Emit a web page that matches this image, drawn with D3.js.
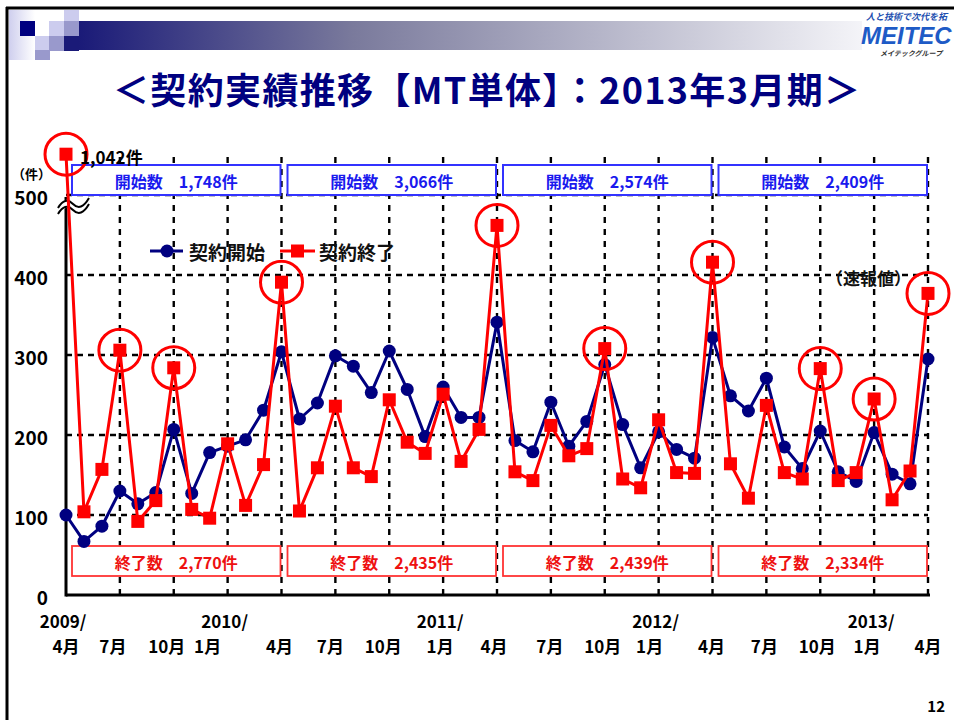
<!DOCTYPE html>
<html><head><meta charset="utf-8">
<script src="https://cdn.jsdelivr.net/npm/d3@7"></script>
<style>
html,body{margin:0;padding:0;background:#fff;}
svg{display:block;}
text{font-family:"Noto Sans CJK JP","Noto Sans",sans-serif;font-weight:bold;white-space:pre;}
</style></head>
<body>
<script>
// ---------- DATA ----------
const contractStarts = [100,67,86,130,114,128,207,127,178,186,194,231,
  304,220,240,299,286,253,305,257,198,260,222,222,
  341,193,179,241,186,217,288,213,159,204,182,171,
  322,249,230,271,185,158,205,154,142,203,151,139,
  295];
const contractEnds = [1042,104,157,306,92,118,284,107,96,189,112,163,
  391,105,159,236,159,148,244,191,177,251,167,207,
  462,154,143,212,174,183,308,145,134,219,153,152,
  416,164,121,237,153,145,283,143,153,245,119,155,
  377];
const highlightIdx = [0,3,6,12,24,30,36,42,45,48];
const yTicks = [0,100,200,300,400,500];
const monthTickIdx = d3.range(0,49,3);
const monthTickLabels = ["4月","7月","10月","1月","4月","7月","10月","1月","4月","7月","10月","1月","4月","7月","10月","1月","4月"];
const yearTickIdx = [0,9,21,33,45];
const yearTickLabels = ["2009/","2010/","2011/","2012/","2013/"];
const startTotals = ["1,748","3,066","2,574","2,409"];
const endTotals = ["2,770","2,435","2,439","2,334"];
const seriesNames = ["契約開始","契約終了"];
const title = "＜契約実績推移【MT単体】：2013年3月期＞";
const peakLabel = "1,042件";

// ---------- LAYOUT ----------
const W = 954, H = 720;
const svg = d3.select("body").append("svg").attr("width", W).attr("height", H);
svg.append("rect").attr("width", W).attr("height", H).attr("fill", "#fff");

const x = d3.scaleLinear().domain([0, 48]).range([66, 928]);
const y = d3.scaleLinear().domain([0, 500]).range([595, 195]);
const breakValue = 551; // display position for values above the axis break
const yv = v => v > 500 ? y(breakValue) : y(v);

const NAVY = "#000080", RED = "#ff0000";

// ---------- HEADER ----------
const defs = svg.append("defs");
const g1 = defs.append("linearGradient").attr("id", "bar").attr("x1", 0).attr("x2", 1);
g1.append("stop").attr("offset", 0).attr("stop-color", "#1a1a78");
g1.append("stop").attr("offset", 0.35).attr("stop-color", "#7a7a9c");
g1.append("stop").attr("offset", 1).attr("stop-color", "#f4f4f8");
const g2 = defs.append("linearGradient").attr("id", "strip").attr("x1", 0).attr("x2", 1);
g2.append("stop").attr("offset", 0).attr("stop-color", "#cfcfee");
g2.append("stop").attr("offset", 1).attr("stop-color", "#ffffff");

svg.append("rect").attr("x", 9).attr("y", 10).attr("width", 26).attr("height", 50).attr("fill", "url(#strip)");
svg.append("rect").attr("x", 79).attr("y", 21).attr("width", 783).attr("height", 29).attr("fill", "url(#bar)");
const sq = [[20,21,"#000080"],[64,10,"#ccccee"],[49,21,"#ccccee"],[64,21,"#9999cc"],[35,36,"#ccccee"],[49,36,"#9999cc"],[64,36,"#1a1a78"],[35,50,"#9999cc"]];
sq.forEach(s => svg.append("rect").attr("x", s[0]).attr("y", s[1]).attr("width", 15).attr("height", s[1] === 50 ? 10 : 15).attr("fill", s[2]));
svg.append("rect").attr("x", 35).attr("y", 21).attr("width", 14).attr("height", 15).attr("fill", "#fff");

svg.append("line").attr("x1", 6).attr("x2", W).attr("y1", 8).attr("y2", 8).attr("stroke", "#000").attr("stroke-width", 3);
svg.append("line").attr("x1", 7).attr("x2", 7).attr("y1", 7).attr("y2", H).attr("stroke", "#000").attr("stroke-width", 3);

// logo
svg.append("text").attr("x", 866).attr("y", 20).attr("font-size", 9).attr("font-style", "italic").attr("fill", "#1e4fb0").text("人と技術で次代を拓");
svg.append("text").attr("x", 861).attr("y", 44).attr("font-size", 24).attr("font-style", "italic").attr("font-weight", 900)
  .attr("fill", "#1e5bc6").style("font-family", "'Liberation Sans',Arial,sans-serif").text("MEITEC");
svg.append("text").attr("x", 880).attr("y", 56).attr("font-size", 7).attr("font-style", "italic").attr("fill", "#333").text("メイテックグループ");

svg.append("text").attr("x", 113).attr("y", 88).attr("dominant-baseline", "central")
  .attr("font-size", 36).attr("fill", NAVY).attr("textLength", 747).attr("lengthAdjust", "spacing").text(title);

// ---------- GRID ----------
const grid = svg.append("g");
grid.selectAll(".hg").data(yTicks.filter(d => d > 0)).join("line")
  .attr("x1", x(0)).attr("x2", x(48)).attr("y1", d => y(d)).attr("y2", d => y(d))
  .attr("stroke", "#000").attr("stroke-width", 2.4).attr("stroke-dasharray", "6,5");
grid.selectAll(".vg").data(monthTickIdx.filter(d => d > 0)).join("line")
  .attr("x1", d => x(d)).attr("x2", d => x(d)).attr("y1", 157).attr("y2", 595)
  .attr("stroke", "#000").attr("stroke-width", 2.4).attr("stroke-dasharray", "6,6");

// axes
svg.append("line").attr("x1", x(0)).attr("x2", x(48) + 2).attr("y1", y(0)).attr("y2", y(0)).attr("stroke", "#000").attr("stroke-width", 3);
svg.append("line").attr("x1", x(0)).attr("x2", x(0)).attr("y1", y(0) + 1.5).attr("y2", y(500) + 2).attr("stroke", "#000").attr("stroke-width", 3);

// y tick labels
svg.selectAll(".yl").data(yTicks).join("text")
  .attr("x", 48).attr("y", d => y(d) + 1).attr("text-anchor", "end").attr("dominant-baseline", "central")
  .attr("font-size", 19).attr("fill", "#000").text(d => d);
svg.append("text").attr("x", 12).attr("y", 173).attr("dominant-baseline", "central").attr("font-size", 13).attr("fill", "#000").text("（件）");

// x tick labels
const monthDx = [0,-7,-7,-20,-2,-5,-6,-3,-3,-1,-2,-9,-1,-2,-3,-7,0];
svg.selectAll(".xm").data(monthTickIdx).join("text")
  .attr("x", (d, i) => x(d) + monthDx[i]).attr("y", 645).attr("text-anchor", "middle").attr("dominant-baseline", "central")
  .attr("font-size", 17).attr("fill", "#000").text((d, i) => monthTickLabels[i]);
svg.selectAll(".xy").data(yearTickIdx).join("text")
  .attr("x", d => x(d) - 3).attr("y", 620).attr("text-anchor", "middle").attr("dominant-baseline", "central")
  .attr("font-size", 17).attr("fill", "#000").text((d, i) => yearTickLabels[i]);

// ---------- BOXES ----------
[0,1,2,3].forEach(k => {
  const x0 = x(k * 12) + 6, x1 = x(k * 12 + 12) - 1;
  svg.append("rect").attr("x", x0).attr("y", 165).attr("width", x1 - x0).attr("height", 30)
    .attr("fill", "#fff").attr("stroke", "#3333ff").attr("stroke-width", 2);
  svg.append("text").attr("x", (x0 + x1) / 2).attr("y", 181).attr("text-anchor", "middle").attr("dominant-baseline", "central")
    .attr("font-size", 16).attr("fill", "#1a1aee").text("開始数\u3000" + startTotals[k] + "件");
  svg.append("rect").attr("x", x0).attr("y", 546).attr("width", x1 - x0).attr("height", 30)
    .attr("fill", "#fff").attr("stroke", "#ff3333").attr("stroke-width", 1.8);
  svg.append("text").attr("x", (x0 + x1) / 2).attr("y", 562).attr("text-anchor", "middle").attr("dominant-baseline", "central")
    .attr("font-size", 16).attr("fill", "#ee1111").text("終了数\u3000" + endTotals[k] + "件");
});

// ---------- SERIES ----------
const line = d3.line().x((d, i) => x(i)).y(d => yv(d));
svg.append("path").datum(contractStarts).attr("d", line).attr("fill", "none").attr("stroke", NAVY).attr("stroke-width", 3).attr("stroke-linejoin", "round");
svg.selectAll(".bc").data(contractStarts).join("circle")
  .attr("cx", (d, i) => x(i)).attr("cy", d => yv(d)).attr("r", 6.5).attr("fill", NAVY);

// axis break symbol
const bx = x(0), by = y(500) + 11;
svg.append("path").attr("d", `M${bx-8},${by+5} q7,-12 15,-4 t16,-6`).attr("fill", "none").attr("stroke", "#fff").attr("stroke-width", 8);
[-3, 3].forEach(o => svg.append("path").attr("d", `M${bx-8},${by+5+o} q7,-12 15,-4 t16,-6`).attr("fill", "none").attr("stroke", "#000").attr("stroke-width", 2));

svg.append("path").datum(contractEnds).attr("d", line).attr("fill", "none").attr("stroke", RED).attr("stroke-width", 3).attr("stroke-linejoin", "round");
svg.selectAll(".rs").data(contractEnds).join("rect")
  .attr("x", (d, i) => x(i) - 6.5).attr("y", d => yv(d) - 6.5).attr("width", 13).attr("height", 13).attr("fill", RED);

svg.selectAll(".hl").data(highlightIdx).join("circle")
  .attr("cx", d => x(d)).attr("cy", d => yv(contractEnds[d])).attr("r", 21)
  .attr("fill", "none").attr("stroke", RED).attr("stroke-width", 3);

svg.append("text").attr("x", 80).attr("y", 156).attr("dominant-baseline", "central").attr("font-size", 17).attr("fill", "#000").text(peakLabel);

// ---------- LEGEND ----------
const lg = svg.append("g");
lg.append("line").attr("x1", 150).attr("x2", 183).attr("y1", 251).attr("y2", 251).attr("stroke", NAVY).attr("stroke-width", 3);
lg.append("circle").attr("cx", 167).attr("cy", 251).attr("r", 6.5).attr("fill", NAVY);
lg.append("text").attr("x", 189).attr("y", 251).attr("dominant-baseline", "central").attr("font-size", 19).attr("fill", "#111").text(seriesNames[0]);
lg.append("line").attr("x1", 280).attr("x2", 315).attr("y1", 251).attr("y2", 251).attr("stroke", RED).attr("stroke-width", 3);
lg.append("rect").attr("x", 291).attr("y", 244.5).attr("width", 13).attr("height", 13).attr("fill", RED);
lg.append("text").attr("x", 319).attr("y", 251).attr("dominant-baseline", "central").attr("font-size", 19).attr("fill", "#111").text(seriesNames[1]);

svg.append("text").attr("x", 826).attr("y", 277).attr("dominant-baseline", "central").attr("font-size", 17).attr("fill", "#111").text("（速報値）");

svg.append("text").attr("x", 945).attr("y", 705).attr("text-anchor", "end").attr("dominant-baseline", "central").attr("font-size", 15).attr("fill", "#000").text("12");
</script>
</body></html>
